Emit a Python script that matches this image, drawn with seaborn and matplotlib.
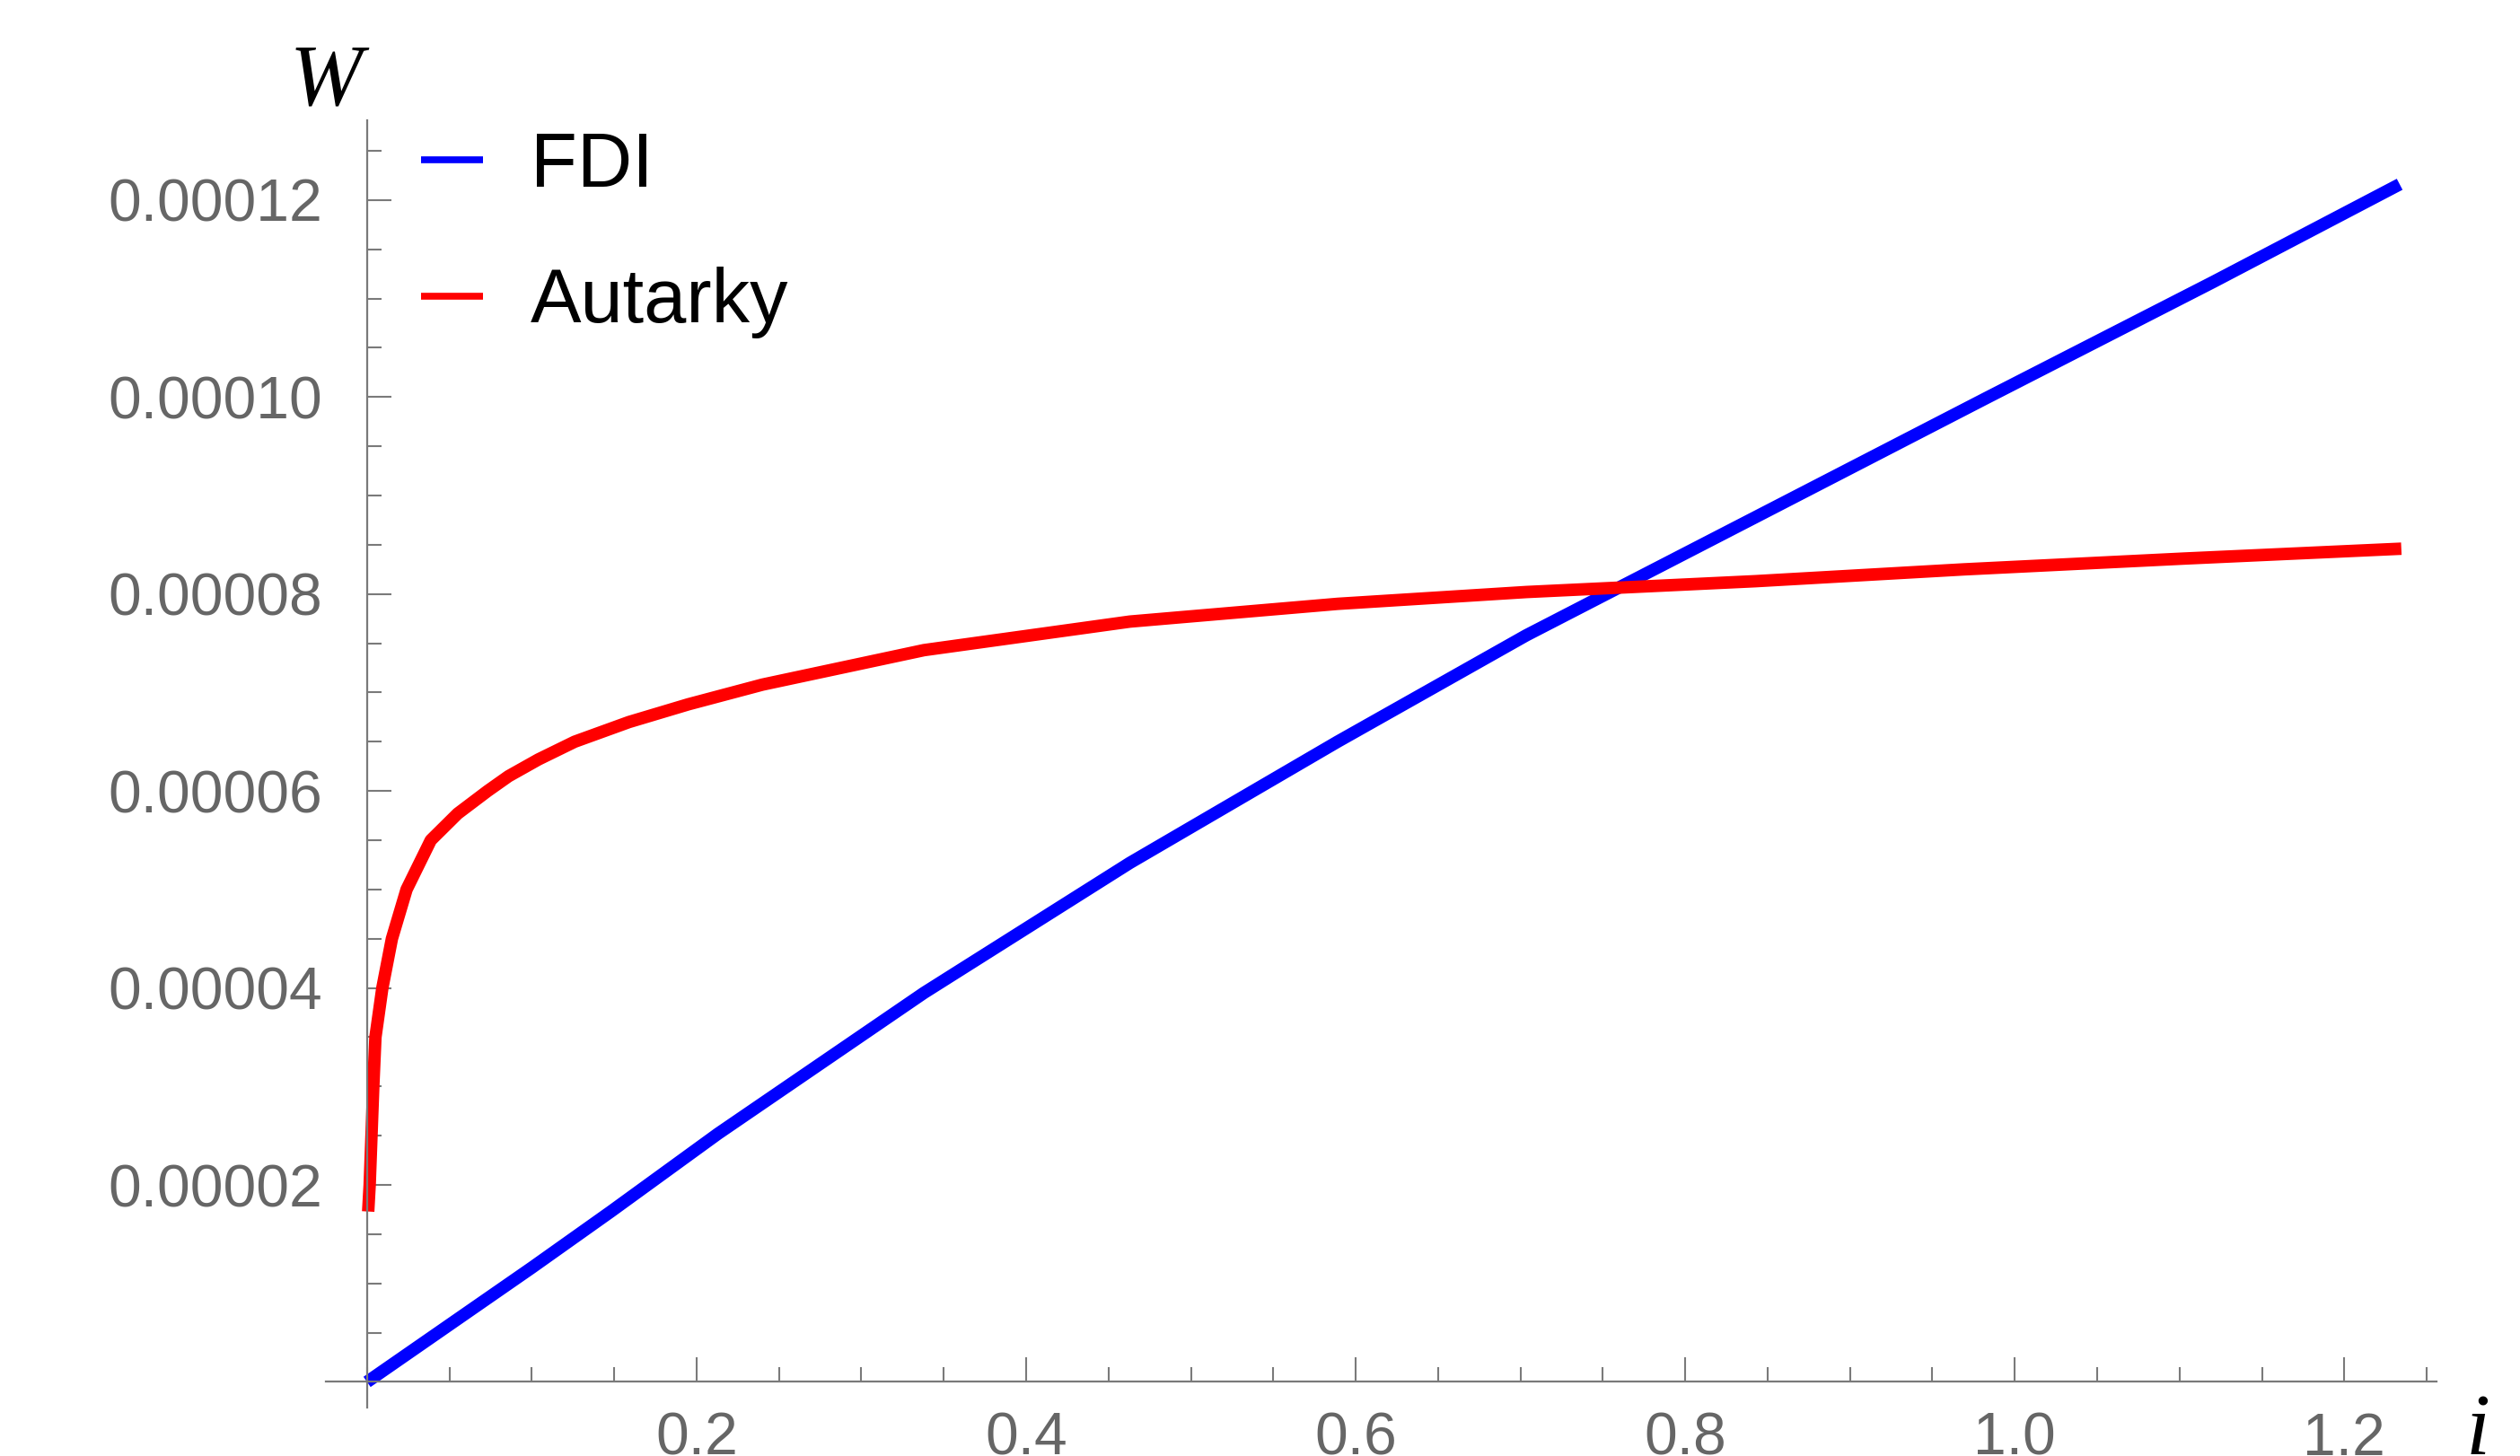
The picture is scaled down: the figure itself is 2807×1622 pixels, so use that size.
import numpy as np
import pandas as pd
import matplotlib
matplotlib.use("Agg")
import matplotlib.pyplot as plt
from matplotlib.lines import Line2D
from matplotlib.ticker import FixedLocator, MultipleLocator, FuncFormatter
import seaborn as sns

# values (W in units of 1e-5)
fdi_i = [0.0, 0.05, 0.1, 0.148, 0.213, 0.338, 0.463, 0.589, 0.7035, 0.8426, 0.9816, 1.1206, 1.2336]
fdi_w = [0.0, 0.58, 1.16, 1.73, 2.52, 3.95, 5.27, 6.50, 7.58, 8.78, 9.98, 11.17, 12.16]

aut_i = [0.0007, 0.0016, 0.0027, 0.0038, 0.0051, 0.0093, 0.0151, 0.024, 0.0387, 0.055,
         0.0732, 0.0859, 0.104, 0.126, 0.159, 0.195, 0.240, 0.338, 0.463, 0.589,
         0.7035, 0.8426, 0.969, 1.103, 1.2346]
aut_w = [1.73, 2.0, 2.5, 3.0, 3.5, 4.0, 4.5, 5.0, 5.5, 5.77,
         6.0, 6.15, 6.32, 6.5, 6.70, 6.88, 7.08, 7.43, 7.72, 7.90,
         8.02, 8.13, 8.25, 8.36, 8.46]

series = ["FDI", "Autarky"]
colors = {"FDI": "#0000ff", "Autarky": "#ff0000"}

df = pd.concat([
    pd.DataFrame({"i": fdi_i, "W": np.array(fdi_w) * 1e-5, "series": "FDI"}),
    pd.DataFrame({"i": aut_i, "W": np.array(aut_w) * 1e-5, "series": "Autarky"}),
], ignore_index=True)

sns.set_style("white")
plt.rcParams["font.family"] = ["Liberation Sans", "DejaVu Sans"]

fig = plt.figure(figsize=(28.07, 16.22), dpi=100)
ax = fig.add_axes([0.1293, 0.0333, 0.8376, 0.8841])

sns.lineplot(data=df, x="i", y="W", hue="series", hue_order=series, palette=colors,
             linewidth=10, legend=False, estimator=None, sort=False, ax=ax)
for ln in ax.lines:
    ln.set_solid_capstyle("butt")
    ln.set_solid_joinstyle("round")

ax.set_xlim(-0.025, 1.256)
ax.set_ylim(-2.6e-6, 1.281e-4)

# Mathematica-style axes crossing at the origin
axis_col = "#7a7a7a"
for s in ["top", "right"]:
    ax.spines[s].set_visible(False)
ax.spines["left"].set_position(("data", 0))
ax.spines["bottom"].set_position(("data", 0))
for s in ["left", "bottom"]:
    ax.spines[s].set_color(axis_col)
    ax.spines[s].set_linewidth(1.6)

ax.xaxis.set_major_locator(FixedLocator([0.2, 0.4, 0.6, 0.8, 1.0, 1.2]))
ax.xaxis.set_minor_locator(MultipleLocator(0.05))
ax.yaxis.set_major_locator(FixedLocator([2e-5, 4e-5, 6e-5, 8e-5, 1e-4, 1.2e-4]))
ax.yaxis.set_minor_locator(MultipleLocator(5e-6))
ax.xaxis.set_major_formatter(FuncFormatter(lambda v, p: f"{v:.1f}"))
ax.yaxis.set_major_formatter(FuncFormatter(lambda v, p: f"{v:.5f}"))

ax.tick_params(which="both", direction="in", bottom=True, left=True, color=axis_col,
               width=1.5, labelsize=47.5, labelcolor="#666666")
ax.tick_params(which="major", length=19.5)
ax.tick_params(which="minor", length=11.5)
ax.tick_params(axis="y", pad=36)
ax.tick_params(axis="x", pad=24)
ax.set_xlabel("")
ax.set_ylabel("")

fig.text(363 / 2807, 1 - 116 / 1622, "W", family="Liberation Serif", style="italic",
         fontsize=70, ha="center", va="baseline", color="black")
fig.text(2760 / 2807, 1 - 1620 / 1622, "i", family="Liberation Serif", style="italic",
         fontsize=70, ha="center", va="baseline", color="black")

handles = [Line2D([], [], color=colors[s], lw=5.5, solid_capstyle="butt") for s in series]
leg = ax.legend(handles, series, loc="upper left", bbox_to_anchor=(469 / 2807, 1 - 146 / 1622),
                bbox_transform=fig.transFigure, frameon=False, fontsize=61,
                handlelength=0.82, handletextpad=0.62, labelspacing=0.84,
                borderpad=0, borderaxespad=0)
for t in leg.get_texts():
    t.set_color("black")

fig.savefig("out.png", dpi=100)
